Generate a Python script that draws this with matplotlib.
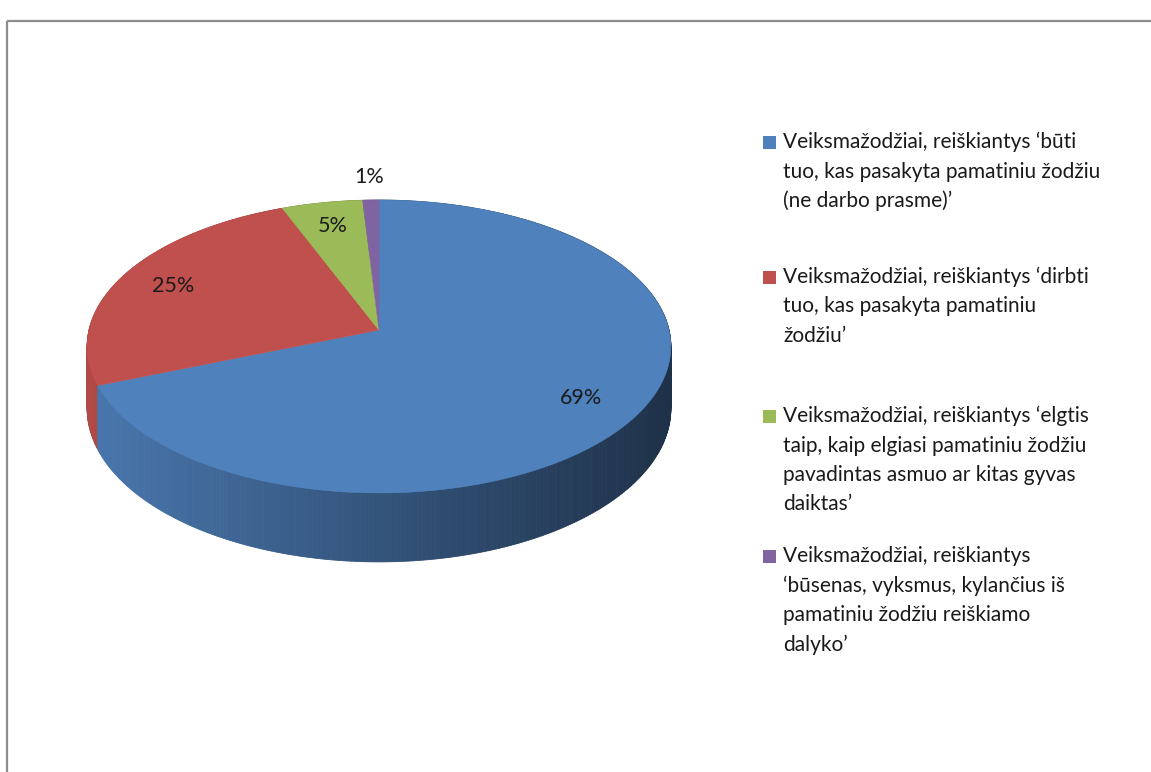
import numpy as np
import matplotlib
matplotlib.use('Agg')
import matplotlib.pyplot as plt
from matplotlib.patches import Polygon, Rectangle
from matplotlib.colors import to_rgb

# ─── Data ────────────────────────────────────────────────────────────────────
labels = [
    "Veiksmažodžiai, reiškiantys ‘būti\ntuo, kas pasakyta pamatiniu žodžiu\n(ne darbo prasme)’",
    "Veiksmažodžiai, reiškiantys ‘dirbti\ntuo, kas pasakyta pamatiniu\nžodžiu’",
    "Veiksmažodžiai, reiškiantys ‘elgtis\ntaip, kaip elgiasi pamatiniu žodžiu\npavadintas asmuo ar kitas gyvas\ndaiktas’",
    "Veiksmažodžiai, reiškiantys\n‘būsenas, vyksmus, kylančius iš\npamatiniu žodžiu reiškiamo\ndalyko’",
]
shares = [69, 25, 5, 1]
colors = ['#4F81BD', '#C0504D', '#9BBB59', '#8064A2']

# ─── Geometry of the 3-D pie (pixels) ────────────────────────────────────────
W, H = 1151, 772
CX, CY = 379, 330      # centre of the pie top
K = 290                # horizontal radius
TILT = 0.4986          # vertical squash
PERSP = 0.1125         # perspective strength
DEPTH = 61.2           # thickness
FONT = 'Lato'
TXT = '#1a1a1a'


def proj(r, theta, z=0.0):
    """theta in degrees, clockwise from 12 o'clock; z=1 is the bottom rim."""
    th = np.radians(theta)
    X, Y = r * np.sin(th), r * np.cos(th)
    w = 1 + PERSP * Y
    return CX + K * X / w, CY - TILT * K * Y / w + z * DEPTH / w


def shade(x):
    f = 0.92 - 0.54 * (x - (CX - K)) / (2 * K)
    return float(np.clip(f, 0.35, 1.0))


fig = plt.figure(figsize=(W / 100, H / 100), dpi=100)
ax = fig.add_axes([0, 0, 1, 1])
ax.set_xlim(0, W)
ax.set_ylim(H, 0)
ax.axis('off')

# frame
ax.plot([7, W], [21, 21], color='#8c8c8c', lw=1.6, solid_capstyle='butt')
ax.plot([7, 7], [21, H], color='#8c8c8c', lw=1.6, solid_capstyle='butt')

bounds = np.concatenate([[0], np.cumsum(shares)]) / sum(shares) * 360

# ── side wall, drawn far to near ─────────────────────────────────────────────
strips = []
for i in range(len(shares)):
    a0, a1 = bounds[i], bounds[i + 1]
    n = max(2, int((a1 - a0) / 0.5))
    ts = np.linspace(a0, a1, n + 1)
    for t0, t1 in zip(ts[:-1], ts[1:]):
        tm = 0.5 * (t0 + t1)
        strips.append((np.cos(np.radians(tm)), i, t0, t1))
strips.sort(key=lambda s: -s[0])
for _, i, t0, t1 in strips:
    p = [proj(1, t0), proj(1, t1), proj(1, t1, 1), proj(1, t0, 1)]
    xm = 0.5 * (p[0][0] + p[1][0])
    c = tuple(np.array(to_rgb(colors[i])) * shade(xm))
    ax.add_patch(Polygon(p, closed=True, fc=c, ec=c, lw=0.6))

# ── top faces ────────────────────────────────────────────────────────────────
for i in range(len(shares)):
    ts = np.linspace(bounds[i], bounds[i + 1], 200)
    pts = [proj(0, 0)] + [proj(1, t) for t in ts]
    ax.add_patch(Polygon(pts, closed=True, fc=colors[i], ec=colors[i], lw=0.4))

# ── data labels ──────────────────────────────────────────────────────────────
for i, v in enumerate(shares):
    mid = 0.5 * (bounds[i] + bounds[i + 1])
    r = 0.8 if v >= 2 else 1.2
    x, y = proj(r, mid)
    ax.text(x, y, f'{v}%', ha='center', va='center', fontsize=15.5,
            family=FONT, color=TXT)

# ── legend ───────────────────────────────────────────────────────────────────
first_line = [142, 277, 416, 556]
pitch = 29.5
for i, lab in enumerate(labels):
    y0 = first_line[i]
    ax.add_patch(Rectangle((763, y0 - 6), 13, 13, fc=colors[i], ec='none'))
    for k, line in enumerate(lab.split('\n')):
        ax.text(783, y0 + k * pitch, line, ha='left', va='center',
                fontsize=15, family=FONT, color=TXT)

fig.savefig('out.png', dpi=100)
